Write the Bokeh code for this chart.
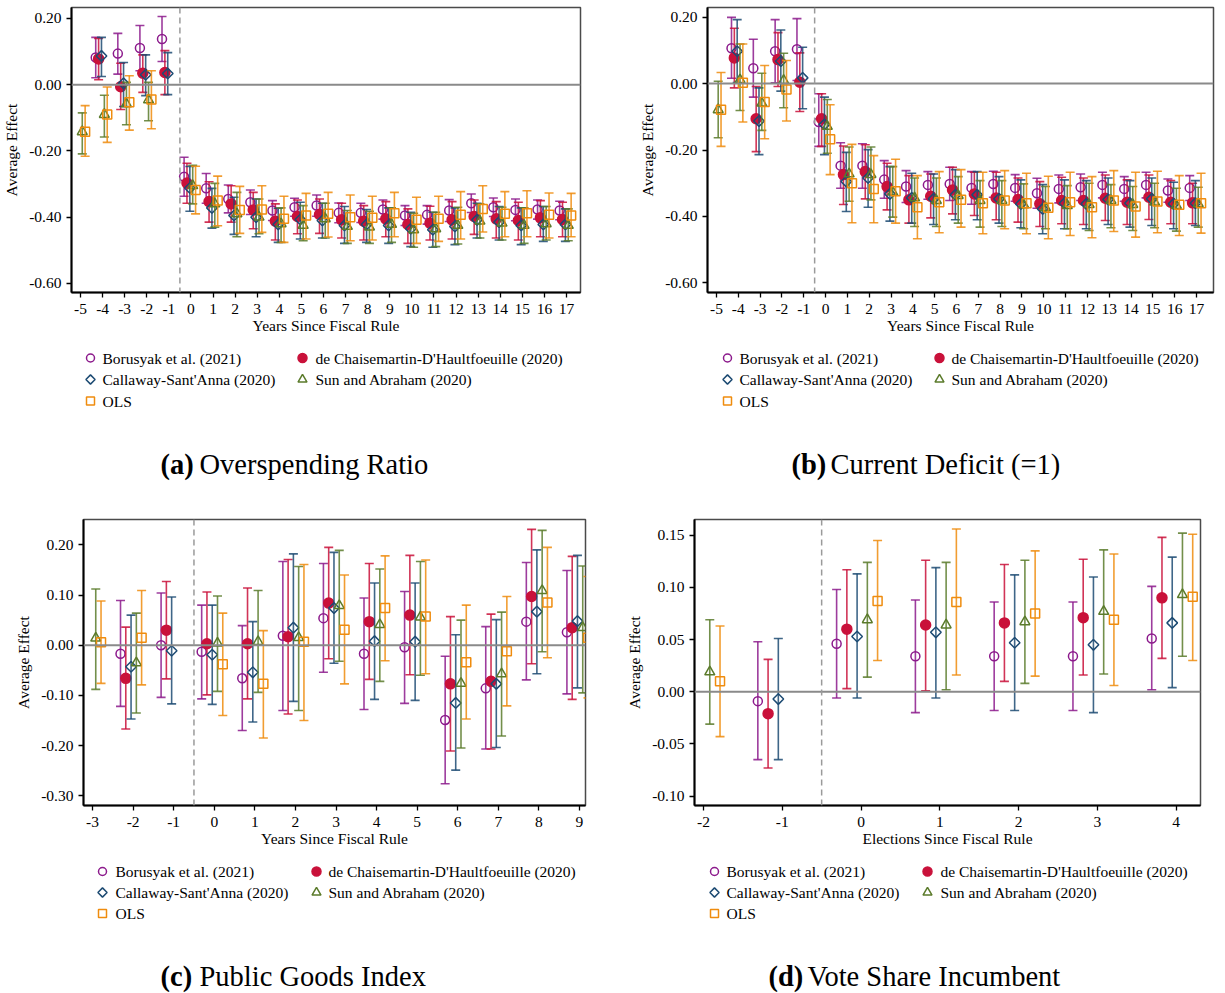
import math
from bokeh.plotting import figure
from bokeh.models import Range1d, FixedTicker, PrintfTickFormatter, Span
from bokeh.layouts import column, row
from bokeh.core.properties import value
from bokeh.embed import file_html
from bokeh.resources import INLINE

# ---------------- data ----------------
NAMES = ["Borusyak et al. (2021)", "de Chaisemartin-D'Haultfoeuille (2020)",
         "Callaway-Sant'Anna (2020)", "Sun and Abraham (2020)", "OLS"]

# Panel (a) Overspending Ratio
A_X_MAIN = [-4, -3, -2, -1] + list(range(0, 18))      # Borusyak, dCDH, Callaway
A_X_ALT = [-5, -4, -3, -2] + list(range(0, 18))       # Sun-Abraham, OLS
A_BJS_EST = [0.082, 0.094, 0.111, 0.138, -0.278, -0.313, -0.345, -0.355, -0.380, -0.370, -0.365, -0.387, -0.387, -0.377, -0.395, -0.393, -0.380, -0.358, -0.370, -0.378, -0.377, -0.380]
A_BJS_HI = [0.143, 0.155, 0.179, 0.206, -0.219, -0.268, -0.303, -0.318, -0.350, -0.343, -0.333, -0.357, -0.358, -0.348, -0.365, -0.365, -0.347, -0.330, -0.342, -0.345, -0.348, -0.352]
A_BJS_LO = [0.021, 0.032, 0.042, 0.070, -0.337, -0.358, -0.387, -0.392, -0.410, -0.397, -0.397, -0.417, -0.416, -0.406, -0.425, -0.421, -0.413, -0.386, -0.398, -0.411, -0.406, -0.408]
A_DCDH_EST = [0.078, -0.006, 0.035, 0.037, -0.297, -0.353, -0.360, -0.378, -0.412, -0.398, -0.392, -0.408, -0.412, -0.405, -0.422, -0.418, -0.408, -0.398, -0.405, -0.410, -0.402, -0.407]
A_DCDH_HI = [0.140, 0.065, 0.090, 0.103, -0.237, -0.293, -0.305, -0.325, -0.360, -0.348, -0.345, -0.358, -0.365, -0.353, -0.375, -0.367, -0.353, -0.348, -0.353, -0.355, -0.350, -0.355]
A_DCDH_LO = [0.015, -0.075, -0.023, -0.030, -0.358, -0.415, -0.415, -0.435, -0.469, -0.450, -0.449, -0.463, -0.469, -0.459, -0.479, -0.469, -0.466, -0.452, -0.463, -0.469, -0.459, -0.459]
A_CS_EST = [0.087, 0.004, 0.030, 0.034, -0.312, -0.372, -0.395, -0.400, -0.422, -0.407, -0.410, -0.425, -0.422, -0.425, -0.435, -0.438, -0.428, -0.408, -0.415, -0.425, -0.422, -0.422]
A_CS_HI = [0.143, 0.067, 0.090, 0.097, -0.247, -0.313, -0.340, -0.345, -0.373, -0.355, -0.358, -0.368, -0.377, -0.372, -0.385, -0.385, -0.372, -0.358, -0.368, -0.372, -0.368, -0.375]
A_CS_LO = [0.025, -0.066, -0.033, -0.030, -0.382, -0.433, -0.452, -0.459, -0.476, -0.466, -0.463, -0.479, -0.476, -0.479, -0.489, -0.491, -0.483, -0.463, -0.469, -0.483, -0.473, -0.473]
A_SA_EST = [-0.142, -0.090, -0.058, -0.046, -0.305, -0.360, -0.390, -0.400, -0.420, -0.425, -0.405, -0.428, -0.430, -0.422, -0.438, -0.435, -0.425, -0.412, -0.418, -0.425, -0.420, -0.425]
A_SA_HI = [-0.085, -0.032, 0.007, 0.007, -0.243, -0.298, -0.325, -0.345, -0.372, -0.365, -0.358, -0.380, -0.382, -0.372, -0.388, -0.385, -0.370, -0.360, -0.370, -0.372, -0.368, -0.375]
A_SA_LO = [-0.209, -0.158, -0.121, -0.109, -0.360, -0.430, -0.459, -0.450, -0.476, -0.471, -0.463, -0.479, -0.479, -0.476, -0.491, -0.489, -0.481, -0.463, -0.469, -0.479, -0.469, -0.471]
A_OLS_EST = [-0.142, -0.090, -0.053, -0.045, -0.318, -0.350, -0.378, -0.377, -0.405, -0.395, -0.390, -0.400, -0.402, -0.388, -0.408, -0.405, -0.393, -0.375, -0.390, -0.388, -0.393, -0.395]
A_OLS_HI = [-0.063, -0.007, 0.027, 0.042, -0.246, -0.276, -0.307, -0.305, -0.337, -0.328, -0.325, -0.333, -0.337, -0.325, -0.340, -0.337, -0.323, -0.305, -0.323, -0.320, -0.327, -0.328]
A_OLS_LO = [-0.216, -0.174, -0.137, -0.133, -0.390, -0.426, -0.449, -0.446, -0.476, -0.466, -0.460, -0.471, -0.469, -0.459, -0.479, -0.473, -0.466, -0.445, -0.459, -0.459, -0.463, -0.459]

# Panel (b) Current Deficit (=1)
B_X_MAIN = [-4, -3, -2, -1] + list(range(0, 18))
B_X_ALT = [-5, -4, -3, -2] + list(range(0, 18))
B_BJS_EST = [0.106, 0.046, 0.097, 0.103, -0.116, -0.247, -0.247, -0.289, -0.310, -0.305, -0.302, -0.314, -0.302, -0.314, -0.330, -0.317, -0.312, -0.305, -0.317, -0.305, -0.322, -0.314]
B_BJS_HI = [0.199, 0.133, 0.192, 0.195, -0.031, -0.178, -0.181, -0.232, -0.262, -0.265, -0.252, -0.265, -0.264, -0.274, -0.285, -0.275, -0.272, -0.267, -0.280, -0.267, -0.287, -0.277]
B_BJS_LO = [0.016, -0.041, 0.002, 0.009, -0.189, -0.315, -0.315, -0.345, -0.358, -0.348, -0.352, -0.363, -0.342, -0.354, -0.375, -0.359, -0.352, -0.344, -0.354, -0.344, -0.357, -0.352]
B_DCDH_EST = [0.077, -0.106, 0.072, 0.004, -0.106, -0.274, -0.265, -0.310, -0.350, -0.339, -0.320, -0.332, -0.344, -0.349, -0.362, -0.352, -0.352, -0.345, -0.357, -0.342, -0.357, -0.359]
B_DCDH_HI = [0.166, -0.009, 0.153, 0.092, -0.031, -0.188, -0.184, -0.240, -0.277, -0.272, -0.252, -0.267, -0.267, -0.284, -0.295, -0.282, -0.284, -0.275, -0.290, -0.275, -0.292, -0.300]
B_DCDH_LO = [-0.013, -0.205, -0.009, -0.084, -0.189, -0.364, -0.347, -0.380, -0.420, -0.404, -0.392, -0.397, -0.410, -0.417, -0.430, -0.422, -0.424, -0.412, -0.424, -0.409, -0.422, -0.422]
B_CS_EST = [0.097, -0.113, 0.067, 0.017, -0.123, -0.295, -0.284, -0.332, -0.344, -0.347, -0.335, -0.335, -0.347, -0.362, -0.377, -0.360, -0.362, -0.349, -0.360, -0.347, -0.362, -0.360]
B_CS_HI = [0.192, -0.013, 0.161, 0.109, -0.041, -0.207, -0.199, -0.250, -0.270, -0.272, -0.259, -0.265, -0.280, -0.290, -0.304, -0.290, -0.292, -0.284, -0.292, -0.284, -0.297, -0.292]
B_CS_LO = [0.003, -0.214, -0.023, -0.076, -0.214, -0.385, -0.372, -0.414, -0.420, -0.424, -0.410, -0.410, -0.420, -0.434, -0.452, -0.437, -0.437, -0.424, -0.432, -0.427, -0.437, -0.427]
B_SA_EST = [-0.079, 0.011, -0.059, 0.009, -0.129, -0.272, -0.274, -0.327, -0.344, -0.352, -0.337, -0.352, -0.352, -0.365, -0.374, -0.367, -0.364, -0.352, -0.364, -0.357, -0.367, -0.362]
B_SA_HI = [0.007, 0.119, 0.031, 0.091, -0.048, -0.191, -0.191, -0.250, -0.284, -0.284, -0.280, -0.292, -0.292, -0.302, -0.310, -0.307, -0.300, -0.304, -0.310, -0.300, -0.315, -0.312]
B_SA_LO = [-0.163, -0.081, -0.141, -0.073, -0.210, -0.354, -0.350, -0.402, -0.430, -0.430, -0.420, -0.432, -0.430, -0.437, -0.437, -0.437, -0.442, -0.434, -0.442, -0.434, -0.444, -0.432]
B_OLS_EST = [-0.079, 0.002, -0.056, -0.018, -0.168, -0.300, -0.317, -0.324, -0.372, -0.357, -0.350, -0.360, -0.352, -0.360, -0.374, -0.357, -0.372, -0.352, -0.370, -0.355, -0.365, -0.360]
B_OLS_HI = [0.033, 0.119, 0.054, 0.069, -0.064, -0.183, -0.217, -0.228, -0.277, -0.265, -0.259, -0.267, -0.262, -0.270, -0.279, -0.267, -0.280, -0.262, -0.267, -0.264, -0.277, -0.270]
B_OLS_LO = [-0.189, -0.116, -0.166, -0.113, -0.274, -0.419, -0.419, -0.420, -0.467, -0.449, -0.432, -0.452, -0.437, -0.452, -0.467, -0.457, -0.464, -0.445, -0.462, -0.449, -0.457, -0.450]

# Panel (c) Public Goods Index
C_X_MAIN = [-2, -1] + list(range(0, 10))
C_X_ALT = [-3, -2] + list(range(0, 10))
C_BJS_EST = [-0.017, 0.000, -0.013, -0.066, 0.019, 0.054, -0.017, -0.004, -0.149, -0.086, 0.047, 0.026]
C_BJS_HI = [0.089, 0.104, 0.080, 0.039, 0.167, 0.163, 0.094, 0.107, -0.022, 0.037, 0.165, 0.149]
C_BJS_LO = [-0.122, -0.104, -0.107, -0.170, -0.130, -0.054, -0.128, -0.116, -0.276, -0.207, -0.069, -0.097]
C_DCDH_EST = [-0.066, 0.030, 0.003, 0.003, 0.017, 0.084, 0.047, 0.060, -0.077, -0.072, 0.097, 0.035]
C_DCDH_HI = [0.036, 0.127, 0.106, 0.114, 0.171, 0.195, 0.163, 0.179, 0.057, 0.062, 0.231, 0.177]
C_DCDH_LO = [-0.167, -0.067, -0.099, -0.107, -0.137, -0.027, -0.068, -0.059, -0.211, -0.207, -0.037, -0.108]
C_CS_EST = [-0.043, -0.011, -0.019, -0.054, 0.035, 0.074, 0.008, 0.007, -0.115, -0.077, 0.067, 0.048]
C_CS_HI = [0.060, 0.096, 0.080, 0.047, 0.182, 0.185, 0.124, 0.124, 0.021, 0.051, 0.190, 0.179]
C_CS_LO = [-0.147, -0.117, -0.118, -0.153, -0.112, -0.036, -0.108, -0.110, -0.249, -0.204, -0.057, -0.085]
C_SA_EST = [0.014, -0.035, 0.004, 0.007, 0.015, 0.079, 0.041, 0.056, -0.076, -0.057, 0.109, 0.035]
C_SA_HI = [0.112, 0.064, 0.098, 0.109, 0.157, 0.189, 0.152, 0.167, 0.050, 0.066, 0.229, 0.158]
C_SA_LO = [-0.088, -0.135, -0.092, -0.094, -0.130, -0.032, -0.072, -0.060, -0.205, -0.181, -0.013, -0.095]
C_OLS_EST = [0.006, 0.015, -0.038, -0.077, 0.007, 0.031, 0.074, 0.057, -0.034, -0.012, 0.085, 0.015]
C_OLS_HI = [0.088, 0.109, 0.064, 0.029, 0.161, 0.140, 0.178, 0.170, 0.080, 0.097, 0.195, 0.137]
C_OLS_LO = [-0.076, -0.079, -0.140, -0.185, -0.150, -0.077, -0.031, -0.057, -0.147, -0.121, -0.025, -0.105]

# Panel (d) Vote Share Incumbent
D_X_MAIN = [-1, 0, 1, 2, 3, 4]
D_X_ALT = [-2, 0, 1, 2, 3, 4]
D_BJS_EST = [-0.009, 0.046, 0.034, 0.034, 0.034, 0.051]
D_BJS_HI = [0.048, 0.098, 0.088, 0.086, 0.086, 0.101]
D_BJS_LO = [-0.065, -0.006, -0.020, -0.018, -0.018, 0.002]
D_DCDH_EST = [-0.021, 0.060, 0.064, 0.066, 0.071, 0.090]
D_DCDH_HI = [0.031, 0.117, 0.126, 0.122, 0.127, 0.148]
D_DCDH_LO = [-0.073, 0.003, 0.001, 0.010, 0.016, 0.032]
D_CS_EST = [-0.007, 0.053, 0.057, 0.047, 0.045, 0.066]
D_CS_HI = [0.051, 0.113, 0.119, 0.112, 0.110, 0.129]
D_CS_LO = [-0.065, -0.006, -0.006, -0.018, -0.020, 0.004]
D_SA_EST = [0.019, 0.069, 0.064, 0.067, 0.077, 0.093]
D_SA_HI = [0.069, 0.124, 0.124, 0.126, 0.136, 0.152]
D_SA_LO = [-0.031, 0.014, 0.002, 0.008, 0.017, 0.034]
D_OLS_EST = [0.010, 0.087, 0.086, 0.075, 0.069, 0.091]
D_OLS_HI = [0.063, 0.145, 0.156, 0.135, 0.132, 0.151]
D_OLS_LO = [-0.043, 0.030, 0.016, 0.015, 0.006, 0.030]

A_YTICKS = [-0.6, -0.4, -0.2, 0.0, 0.2]
B_YTICKS = [-0.6, -0.4, -0.2, 0.0, 0.2]
C_YTICKS = [-0.3, -0.2, -0.1, 0.0, 0.1, 0.2]
D_YTICKS = [-0.10, -0.05, 0.0, 0.05, 0.10, 0.15]
A_XTICKS = list(range(-5, 18))
C_XTICKS = list(range(-3, 10))
D_XTICKS = list(range(-2, 5))

# ---------------- style ----------------
SERIF = "Liberation Serif"
COLORS = ["#8c1a8c", "#c9113a", "#1d4b73", "#5b7b2b", "#ef8c0e"]
OFFSETS = [-0.31, -0.18, -0.05, 0.08, 0.21]
MARKERS = [
    dict(marker="circle", size=9, angle=0.0, filled=False),
    dict(marker="circle", size=10, angle=0.0, filled=True),
    dict(marker="square", size=7.5, angle=math.pi / 4, filled=False),
    dict(marker="triangle", size=10, angle=0.0, filled=False),
    dict(marker="square", size=9, angle=0.0, filled=False),
]
TICK_FS = "15.5px"


def draw_series(p, k, xs, est, lo, hi):
    c = COLORS[k]
    xo = [x + OFFSETS[k] for x in xs]
    p.segment(x0=xo, y0=lo, x1=xo, y1=hi, line_color=c, line_width=1.6, line_alpha=0.85)
    p.scatter(x=xo + xo, y=list(lo) + list(hi), marker="dash", size=9,
              line_color=c, line_width=1.6, line_alpha=0.85)
    m = MARKERS[k]
    p.scatter(x=xo, y=est, marker=m["marker"], size=m["size"], angle=m["angle"],
              line_color=c, line_width=1.5,
              fill_color=c if m["filled"] else "white", fill_alpha=1.0 if m["filled"] else 0.0)


def make_panel(width, height, borders, xr, yr, xticks, yticks, xlabel):
    l, r, t, b = borders
    p = figure(width=width, height=height, x_range=Range1d(*xr), y_range=Range1d(*yr),
               toolbar_location=None, output_backend="svg",
               min_border_left=l, min_border_right=r, min_border_top=t, min_border_bottom=b)
    p.xgrid.visible = False
    p.ygrid.visible = False
    p.outline_line_color = "#4a4a4a"
    p.outline_line_width = 1.5
    p.background_fill_color = "white"
    p.border_fill_color = "white"
    for ax in (p.xaxis[0], p.yaxis[0]):
        ax.axis_line_color = "black"
        ax.axis_line_width = 2
        ax.major_tick_line_color = "black"
        ax.major_tick_line_width = 1.3
        ax.major_tick_in = 0
        ax.major_tick_out = 5
        ax.minor_tick_line_color = None
        ax.major_label_text_font = SERIF
        ax.major_label_text_font_size = TICK_FS
        ax.major_label_text_color = "black"
        ax.axis_label_text_font = SERIF
        ax.axis_label_text_font_size = TICK_FS
        ax.axis_label_text_font_style = "normal"
        ax.axis_label_text_color = "black"
    p.xaxis.ticker = FixedTicker(ticks=xticks)
    p.yaxis.ticker = FixedTicker(ticks=yticks)
    p.xaxis.formatter = PrintfTickFormatter(format="%d")
    p.yaxis.formatter = PrintfTickFormatter(format="%.2f")
    p.xaxis.axis_label = xlabel
    p.yaxis.axis_label = "Average Effect"
    p.xaxis.major_label_standoff = 6
    p.xaxis.axis_label_standoff = 0
    p.yaxis.major_label_standoff = 5
    p.yaxis.axis_label_standoff = 6
    p.add_layout(Span(location=0, dimension="width", line_color="#8a8a8a", line_width=2))
    p.add_layout(Span(location=-0.5, dimension="height", line_color="#9a9a9a",
                      line_width=1.5, line_dash="6 4"))
    return p


def add_all(p, xm, xa, bjs, dcdh, cs, sa, ols):
    draw_series(p, 0, xm, *bjs)
    draw_series(p, 1, xm, *dcdh)
    draw_series(p, 2, xm, *cs)
    draw_series(p, 3, xa, *sa)
    draw_series(p, 4, xa, *ols)


# Panel a : frame x 71..580, y 7..292
pa = make_panel(635, 340, (71, 55, 7, 48), (-5.407, 17.634), (-0.6275, 0.2332),
                A_XTICKS, A_YTICKS, "Years Since Fiscal Rule")
add_all(pa, A_X_MAIN, A_X_ALT,
        (A_BJS_EST, A_BJS_LO, A_BJS_HI), (A_DCDH_EST, A_DCDH_LO, A_DCDH_HI),
        (A_CS_EST, A_CS_LO, A_CS_HI), (A_SA_EST, A_SA_LO, A_SA_HI),
        (A_OLS_EST, A_OLS_LO, A_OLS_HI))

# Panel b : frame x 707..1213, y 7..292
pb = make_panel(590, 340, (72, 12, 7, 48), (-5.41, 17.78), (-0.6286, 0.2286),
                A_XTICKS, B_YTICKS, "Years Since Fiscal Rule")
add_all(pb, B_X_MAIN, B_X_ALT,
        (B_BJS_EST, B_BJS_LO, B_BJS_HI), (B_DCDH_EST, B_DCDH_LO, B_DCDH_HI),
        (B_CS_EST, B_CS_LO, B_CS_HI), (B_SA_EST, B_SA_LO, B_SA_HI),
        (B_OLS_EST, B_OLS_LO, B_OLS_HI))

# Panel c : frame x 83..585, y 519..805
pc = make_panel(620, 345, (83, 35, 9, 50), (-3.222, 9.148), (-0.3195, 0.2506),
                C_XTICKS, C_YTICKS, "Years Since Fiscal Rule")
add_all(pc, C_X_MAIN, C_X_ALT,
        (C_BJS_EST, C_BJS_LO, C_BJS_HI), (C_DCDH_EST, C_DCDH_LO, C_DCDH_HI),
        (C_CS_EST, C_CS_LO, C_CS_HI), (C_SA_EST, C_SA_LO, C_SA_HI),
        (C_OLS_EST, C_OLS_LO, C_OLS_HI))

# Panel d : frame x 694..1200, y 519..805
pd_ = make_panel(605, 345, (74, 25, 9, 50), (-2.114, 4.309), (-0.1090, 0.1651),
                 D_XTICKS, D_YTICKS, "Elections Since Fiscal Rule")
add_all(pd_, D_X_MAIN, D_X_ALT,
        (D_BJS_EST, D_BJS_LO, D_BJS_HI), (D_DCDH_EST, D_DCDH_LO, D_DCDH_HI),
        (D_CS_EST, D_CS_LO, D_CS_HI), (D_SA_EST, D_SA_LO, D_SA_HI),
        (D_OLS_EST, D_OLS_LO, D_OLS_HI))


# ---------------- legends and captions (page-pixel canvases) ----------------
def blank(height, y_top, y_bottom):
    f = figure(width=1225, height=height, x_range=Range1d(0, 1225), y_range=Range1d(y_bottom, y_top),
               toolbar_location=None, output_backend="svg",
               x_axis_location=None, y_axis_location=None,
               min_border_left=0, min_border_right=0, min_border_top=0, min_border_bottom=0)
    f.xgrid.visible = False
    f.ygrid.visible = False
    f.outline_line_color = None
    f.background_fill_color = "white"
    f.border_fill_color = "white"
    return f


LEG_ORDER = [(0, 0, 0), (1, 1, 0), (2, 0, 1), (3, 1, 1), (4, 0, 2)]  # (series, col, row)
LEG_SIZES = [8, 9, 6.5, 9, 8]


def draw_legend(f, col_marker_x, col_text_x, row_y):
    for k, col, r in LEG_ORDER:
        m = MARKERS[k]
        c = COLORS[k]
        f.scatter(x=[col_marker_x[col]], y=[row_y[r]], marker=m["marker"], size=LEG_SIZES[k],
                  angle=m["angle"], line_color=c, line_width=1.5,
                  fill_color=c if m["filled"] else "white", fill_alpha=1.0 if m["filled"] else 0.0)
        f.text(x=[col_text_x[col]], y=[row_y[r]], text=[NAMES[k]],
               text_font=value(SERIF), text_font_size="15.5px", text_color="black",
               text_align="left", text_baseline="middle")


def draw_caption(f, x, y, tag, title):
    f.text(x=[x], y=[y], text=[tag], text_font=value(SERIF), text_font_size="28.5px",
           text_font_style="bold", text_color="black", text_align="left", text_baseline="middle")
    f.text(x=[x + 39], y=[y], text=[title], text_font=value(SERIF), text_font_size="28.5px",
           text_color="black", text_align="left", text_baseline="middle")


lg1 = blank(170, 340, 510)
draw_legend(lg1, (90, 302), (102, 315), (357.5, 379, 400.5))
draw_legend(lg1, (727, 939), (739, 951), (357.5, 379, 400.5))
draw_caption(lg1, 160, 464, "(a)", "Overspending Ratio")
draw_caption(lg1, 791, 464, "(b)", "Current Deficit (=1)")

lg2 = blank(138, 855, 993)
draw_legend(lg2, (102, 316), (115, 328), (871, 892, 913))
draw_legend(lg2, (714, 927), (726, 940), (871, 892, 913))
draw_caption(lg2, 160, 976, "(c)", "Public Goods Index")
draw_caption(lg2, 768, 976, "(d)", "Vote Share Incumbent")

layout = column(row(pa, pb), lg1, row(pc, pd_), lg2)

open("out.html", "w").write(file_html(layout, INLINE))
